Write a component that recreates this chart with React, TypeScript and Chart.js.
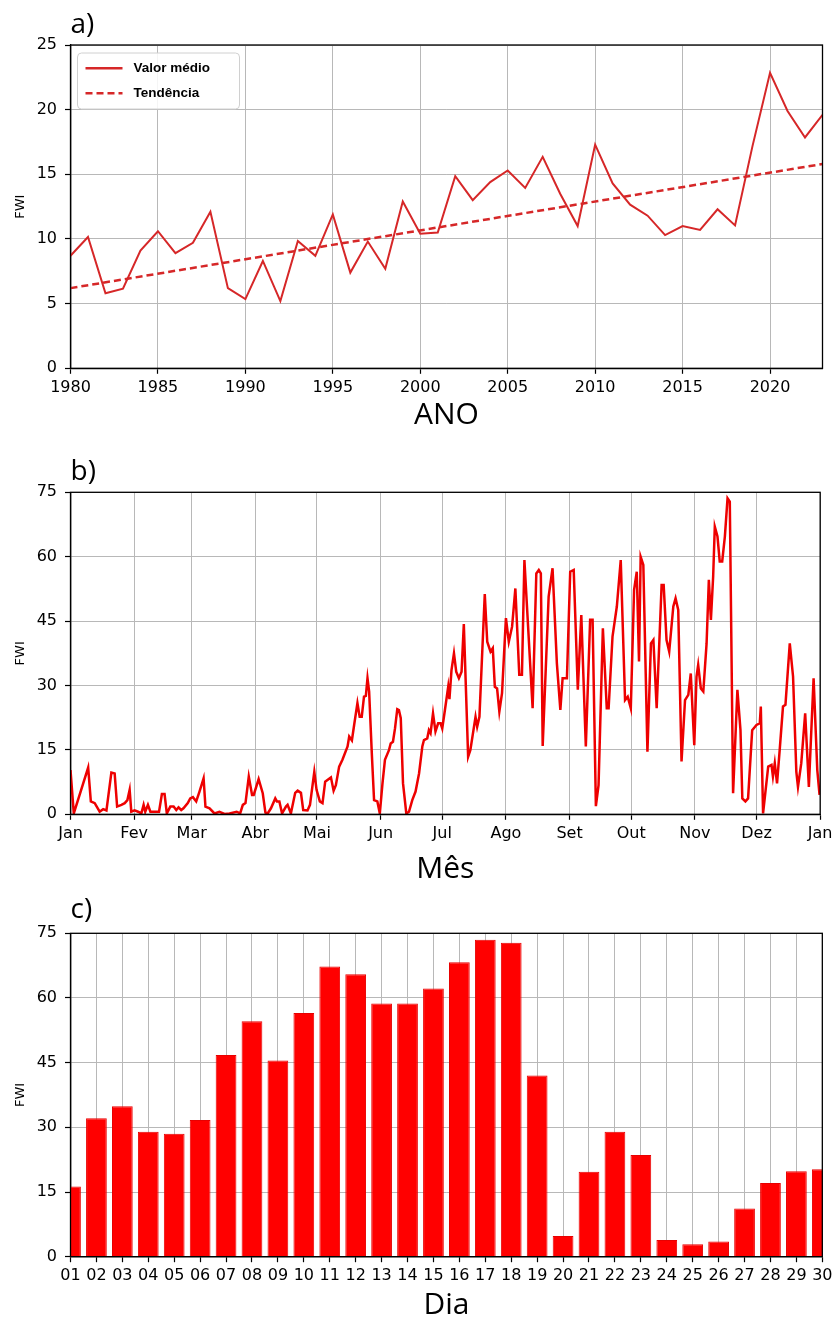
import React, { useEffect, useRef } from 'react';
import { Chart, registerables } from 'chart.js';

Chart.register(...registerables);
Chart.defaults.color = '#000';

// ---------- Panel a) annual mean FWI ----------
const years = [
  1980, 1981, 1982, 1983, 1984, 1985, 1986, 1987, 1988, 1989,
  1990, 1991, 1992, 1993, 1994, 1995, 1996, 1997, 1998, 1999,
  2000, 2001, 2002, 2003, 2004, 2005, 2006, 2007, 2008, 2009,
  2010, 2011, 2012, 2013, 2014, 2015, 2016, 2017, 2018, 2019,
  2020, 2021, 2022, 2023,
];
const valorMedio = [
  8.7, 10.15, 5.8, 6.15, 9.1, 10.6, 8.9, 9.7, 12.1, 6.2,
  5.35, 8.3, 5.2, 9.85, 8.7, 11.9, 7.4, 9.8, 7.7, 12.9,
  10.4, 10.5, 14.85, 13.0, 14.4, 15.3, 13.95, 16.35, 13.5, 11.0,
  17.3, 14.3, 12.65, 11.8, 10.3, 11.0, 10.7, 12.3, 11.05, 17.2,
  22.85, 19.9, 17.85, 19.6,
];
const trendYears = [1980, 2023];
const trendValues = [6.2, 15.8];

// ---------- Panel b) daily FWI through the year ----------
const dayOfYear = [
  0, 1.6, 8.6, 9.9, 11.8, 14.2, 15.9, 17.5, 19.9, 21.5,
  22.7, 24.8, 26.4, 27.7, 28.8, 29.6, 31.2, 32.9, 34.5, 35.6,
  36.4, 37.7, 38.9, 43.1, 44.5, 45.8, 46.9, 48.6, 50.2, 51.5,
  52.6, 53.9, 55.0, 57.1, 58.3, 59.6, 61.2, 62.8, 64.8, 65.7,
  67.7, 70.1, 72.5, 75.0, 77.4, 80.9, 82.6, 83.9, 85.2, 86.8,
  88.4, 89.2, 91.6, 93.6, 94.9, 96.0, 97.6, 99.7, 100.5, 101.7,
  103.0, 104.9, 105.7, 107.3, 109.4, 110.6, 112.2, 113.3, 115.4, 116.6,
  118.7, 119.8, 121.4, 122.7, 124.0, 125.1, 126.8, 128.1, 129.2, 130.8,
  132.4, 134.9, 135.7, 137.0, 138.1, 139.7, 140.8, 141.8, 142.9, 143.8,
  144.6, 145.4, 146.7, 147.8, 149.4, 150.6, 151.9, 153.1, 155.1, 155.9,
  157.0, 158.0, 159.1, 159.9, 160.8, 161.9, 163.5, 164.8, 166.4, 168.0,
  169.7, 171.3, 172.1, 173.7, 174.5, 175.3, 176.5, 177.7, 179.0, 180.2,
  181.0, 182.3, 183.9, 184.5, 185.5, 186.7, 187.8, 189.1, 190.4, 191.5,
  193.6, 194.7, 197.2, 198.0, 199.1, 201.7, 202.9, 204.5, 205.6, 206.6,
  207.7, 208.8, 210.1, 212.0, 213.4, 215.0, 216.6, 218.5, 219.8, 221.0,
  225.0, 226.8, 228.0, 229.0, 229.9, 232.8, 234.7, 236.8, 238.5, 239.6,
  241.7, 243.3, 245.0, 247.0, 248.7, 250.9, 253.0, 254.2, 255.8, 257.1,
  259.2, 261.1, 262.0, 263.9, 266.0, 267.9, 270.0, 271.3, 272.8, 274.4,
  275.7, 276.8, 277.6, 278.9, 280.9, 282.6, 283.8, 285.4, 287.8, 288.8,
  290.2, 291.5, 293.5, 294.6, 295.9, 297.5, 299.2, 300.8, 302.0, 303.7,
  304.8, 305.6, 306.9, 308.1, 309.7, 310.8, 311.8, 312.9, 313.7, 315.0,
  316.1, 317.3, 318.6, 319.9, 321.0, 322.6, 324.7, 326.2, 327.1, 328.6,
  329.9, 331.9, 334.0, 335.6, 336.1, 337.2, 339.7, 341.3, 342.0, 342.9,
  344.0, 345.3, 346.9, 348.1, 350.2, 351.8, 353.4, 354.2, 355.8, 357.7,
  359.5, 361.8, 363.6, 364.7,
];
const fwiDaily = [
  10.3, 0.2, 10.9, 3.0, 2.6, 0.6, 1.2, 0.9, 9.7, 9.5,
  1.8, 2.2, 2.6, 3.3, 5.7, 0.6, 0.9, 0.6, 0.2, 2.2,
  0.6, 2.2, 0.6, 0.6, 4.7, 4.7, 0.2, 1.8, 1.8, 1.0,
  1.6, 1.0, 1.4, 2.6, 3.7, 4.0, 3.0, 5.3, 8.4, 1.8,
  1.4, 0.2, 0.6, 0.1, 0.2, 0.6, 0.2, 2.2, 2.6, 8.8,
  4.5, 4.5, 8.2, 4.9, 0.4, 0.2, 1.4, 3.7, 3.0, 3.0,
  0.2, 1.8, 2.2, 0.2, 5.0, 5.5, 5.0, 1.0, 0.9, 2.2,
  9.9, 5.7, 3.0, 2.6, 7.6, 8.0, 8.6, 5.5, 6.8, 11.1,
  12.7, 15.8, 18.1, 17.2, 20.8, 25.9, 22.7, 22.7, 27.4, 27.6,
  31.7, 28.6, 14.2, 3.3, 3.0, 0.2, 7.2, 12.7, 15.0, 16.5,
  16.9, 20.0, 24.5, 24.3, 22.4, 7.2, 0.2, 0.6, 3.3, 5.3,
  9.5, 15.8, 17.3, 17.7, 19.6, 18.9, 23.5, 19.3, 21.2, 21.2,
  20.0, 24.3, 29.7, 26.8, 33.6, 37.5, 33.2, 31.7, 33.2, 44.3,
  13.4, 15.0, 22.7, 20.4, 22.7, 51.3, 40.2, 37.9, 38.7, 29.7,
  29.3, 23.9, 28.2, 45.7, 40.2, 43.7, 52.6, 32.5, 32.5, 59.2,
  24.7, 56.1, 56.9, 56.1, 15.9, 50.7, 57.3, 35.2, 24.3, 31.7,
  31.7, 56.5, 56.9, 29.0, 46.4, 15.8, 45.3, 45.3, 1.9, 6.8,
  43.3, 24.7, 24.7, 41.4, 48.4, 59.2, 26.6, 27.4, 24.7, 52.3,
  56.5, 35.6, 60.0, 58.1, 14.6, 39.8, 40.6, 24.7, 53.4, 53.4,
  40.6, 37.9, 48.4, 50.3, 47.6, 12.3, 26.6, 27.8, 32.8, 16.1,
  32.1, 34.8, 29.3, 28.6, 39.8, 54.6, 45.3, 55.4, 67.0, 64.7,
  58.9, 58.9, 64.7, 73.6, 72.8, 4.9, 29.0, 19.6, 3.7, 3.0,
  3.7, 19.6, 20.8, 21.2, 25.1, 0.2, 11.1, 11.5, 8.8, 11.9,
  7.2, 15.0, 25.1, 25.5, 39.8, 32.1, 9.9, 6.4, 11.9, 23.5,
  6.4, 31.7, 10.3, 4.5,
];
const monthStarts = [0, 31, 59, 90, 120, 151, 181, 212, 243, 273, 304, 334, 365];
const monthLabels = ['Jan', 'Fev', 'Mar', 'Abr', 'Mai', 'Jun', 'Jul', 'Ago', 'Set', 'Out', 'Nov', 'Dez', 'Jan'];

// ---------- Panel c) FWI per day ----------
const dayLabels = [
  '01', '02', '03', '04', '05', '06', '07', '08', '09', '10',
  '11', '12', '13', '14', '15', '16', '17', '18', '19', '20',
  '21', '22', '23', '24', '25', '26', '27', '28', '29', '30',
];
const fwiDia = [
  16.3, 32.1, 34.9, 29.0, 28.5, 31.7, 46.8, 54.6, 45.5, 56.5,
  67.3, 65.5, 58.7, 58.7, 62.2, 68.3, 73.5, 72.8, 42.0, 4.8,
  19.7, 29.0, 23.6, 3.9, 2.9, 3.5, 11.2, 17.1, 19.8, 20.3,
];

// ---------- shared styling ----------
const PAGE_W = 837;
const PLOT_LEFT = 70.5;
const PLOT_RIGHT = 822.5;
const GRID = '#b8b8b8';
const TICK_FONT = { family: 'DejaVu Sans', size: 16 };
const TITLE_FONT = { family: 'Open Sans', size: 30, lineHeight: 1 };
const FWI_FONT = { family: 'DejaVu Sans', size: 13 };

const framePlugin = {
  id: 'frame',
  afterDraw(chart: any) {
    const { ctx, chartArea: a } = chart;
    ctx.save();
    ctx.strokeStyle = '#000';
    ctx.lineWidth = 1.3;
    ctx.strokeRect(a.left, a.top, a.right - a.left, a.bottom - a.top);
    ctx.restore();
  },
};

const panelLabelPlugin = {
  id: 'panelLabel',
  afterDraw(chart: any, _args: any, opts: any) {
    const { ctx, chartArea: a } = chart;
    ctx.save();
    ctx.fillStyle = '#000';
    ctx.font = '28px "Open Sans"';
    ctx.textAlign = 'left';
    ctx.textBaseline = 'alphabetic';
    ctx.fillText(opts.text, a.left + (opts.dx || 0), a.top - opts.gap);
    ctx.restore();
  },
};

const insideLegendPlugin = {
  id: 'insideLegend',
  afterDraw(chart: any, _args: any, opts: any) {
    const { ctx, chartArea: a } = chart;
    const x0 = a.left + opts.dx;
    const y0 = a.top + opts.dy;
    const w = opts.width;
    const h = opts.height;
    const r = 4;
    ctx.save();
    ctx.beginPath();
    ctx.moveTo(x0 + r, y0);
    ctx.lineTo(x0 + w - r, y0);
    ctx.quadraticCurveTo(x0 + w, y0, x0 + w, y0 + r);
    ctx.lineTo(x0 + w, y0 + h - r);
    ctx.quadraticCurveTo(x0 + w, y0 + h, x0 + w - r, y0 + h);
    ctx.lineTo(x0 + r, y0 + h);
    ctx.quadraticCurveTo(x0, y0 + h, x0, y0 + h - r);
    ctx.lineTo(x0, y0 + r);
    ctx.quadraticCurveTo(x0, y0, x0 + r, y0);
    ctx.closePath();
    ctx.fillStyle = 'rgba(255,255,255,0.85)';
    ctx.fill();
    ctx.strokeStyle = '#d0d0d0';
    ctx.lineWidth = 1;
    ctx.stroke();
    chart.data.datasets.forEach((ds: any, i: number) => {
      const y = y0 + opts.firstRow + i * opts.rowGap;
      ctx.beginPath();
      ctx.setLineDash(ds.borderDash || []);
      ctx.strokeStyle = ds.borderColor;
      ctx.lineWidth = 2.5;
      ctx.moveTo(x0 + 8, y);
      ctx.lineTo(x0 + 45, y);
      ctx.stroke();
      ctx.setLineDash([]);
      ctx.fillStyle = '#000';
      ctx.font = 'bold 13.5px "Liberation Sans", Arial, sans-serif';
      ctx.textBaseline = 'middle';
      ctx.textAlign = 'left';
      ctx.fillText(ds.label, x0 + 56, y);
    });
    ctx.restore();
  },
};

function xAxisBase(height: number, titleText: string, titlePad: number) {
  return {
    grid: { color: GRID, lineWidth: 1, tickColor: '#000', tickLength: 5.5, tickWidth: 1.2 },
    border: { color: '#000', width: 1.3 },
    ticks: { font: TICK_FONT, color: '#000', padding: 4.5, maxRotation: 0, autoSkip: false },
    title: { display: true, text: titleText, font: TITLE_FONT, color: '#000', padding: { top: 0, bottom: titlePad } },
    afterFit: (s: any) => { s.height = height; },
  };
}

function yAxisBase(max: number, step: number) {
  return {
    min: 0,
    max,
    grid: { color: GRID, lineWidth: 1, tickColor: '#000', tickLength: 5.5, tickWidth: 1.2 },
    border: { color: '#000', width: 1.3 },
    ticks: { stepSize: step, font: TICK_FONT, color: '#000', padding: 8 },
    title: { display: true, text: 'FWI', font: FWI_FONT, color: '#000', padding: { top: 13, bottom: 0 } },
    afterFit: (s: any) => { s.width = PLOT_LEFT; },
  };
}

function configA(): any {
  return {
    type: 'line',
    data: {
      datasets: [
        {
          label: 'Valor médio',
          data: years.map((y, i) => ({ x: y, y: valorMedio[i] })),
          borderColor: '#d62728',
          borderWidth: 2,
          pointRadius: 0,
          tension: 0,
          fill: false,
        },
        {
          label: 'Tendência',
          data: trendYears.map((y, i) => ({ x: y, y: trendValues[i] })),
          borderColor: '#d62728',
          borderWidth: 2.5,
          borderDash: [7, 4],
          pointRadius: 0,
          fill: false,
        },
      ],
    },
    options: {
      animation: false,
      responsive: true,
      maintainAspectRatio: false,
      layout: { padding: { left: 0, right: PAGE_W - PLOT_RIGHT, top: 45, bottom: 0 } },
      plugins: {
        legend: { display: false },
        tooltip: { enabled: false },
        panelLabel: { text: 'a)', gap: 11.7 },
        insideLegend: { dx: 7, dy: 8, width: 162, height: 56, firstRow: 15.3, rowGap: 25 },
      },
      scales: {
        x: {
          type: 'linear',
          min: 1980,
          max: 2023,
          ...xAxisBase(71.7, 'ANO', 10),
          ticks: {
            stepSize: 5, includeBounds: false, font: TICK_FONT, color: '#000', padding: 4.5, maxRotation: 0,
            callback: (v: any) => String(v),
          },
        },
        y: yAxisBase(25, 5),
      },
    },
    plugins: [framePlugin, panelLabelPlugin, insideLegendPlugin],
  };
}

function configB(): any {
  return {
    type: 'line',
    data: {
      datasets: [
        {
          label: 'FWI',
          data: dayOfYear.map((d, i) => ({ x: d, y: fwiDaily[i] })),
          borderColor: '#ee0000',
          borderWidth: 2.5,
          pointRadius: 0,
          tension: 0,
          fill: false,
        },
      ],
    },
    options: {
      animation: false,
      responsive: true,
      maintainAspectRatio: false,
      layout: { padding: { left: 0, right: PAGE_W - PLOT_RIGHT, top: 52.3, bottom: 0 } },
      plugins: {
        legend: { display: false },
        tooltip: { enabled: false },
        panelLabel: { text: 'b)', gap: 12 },
      },
      scales: {
        x: {
          type: 'linear',
          min: monthStarts[0],
          max: monthStarts[monthStarts.length - 1],
          ...xAxisBase(75.7, 'Mês', 6),
          afterBuildTicks: (s: any) => { s.ticks = monthStarts.map((v) => ({ value: v })); },
          ticks: {
            font: TICK_FONT, color: '#000', padding: 4.5, maxRotation: 0, autoSkip: false,
            callback: (v: any) => monthLabels[monthStarts.indexOf(v)],
          },
        },
        y: yAxisBase(75, 15),
      },
    },
    plugins: [framePlugin, panelLabelPlugin],
  };
}

function configC(): any {
  return {
    type: 'bar',
    data: {
      labels: dayLabels,
      datasets: [
        {
          label: 'FWI',
          data: fwiDia,
          backgroundColor: '#ff0000',
          borderColor: '#e80000',
          borderWidth: 1,
          categoryPercentage: 0.8,
          barPercentage: 1.0,
        },
      ],
    },
    options: {
      animation: false,
      responsive: true,
      maintainAspectRatio: false,
      layout: { padding: { left: 0, right: PAGE_W - PLOT_RIGHT, top: 43.3, bottom: 0 } },
      plugins: {
        legend: { display: false },
        tooltip: { enabled: false },
        panelLabel: { text: 'c)', gap: 15 },
      },
      scales: {
        x: {
          type: 'category',
          offset: false,
          z: 1,
          ...xAxisBase(63.3, 'Dia', 0),
          grid: { color: GRID, lineWidth: 1, tickColor: '#000', tickLength: 5.5, tickWidth: 1.2, offset: false },
        },
        y: { ...yAxisBase(75, 15), z: 1 },
      },
    },
    plugins: [framePlugin, panelLabelPlugin],
  };
}

function Panel({ top, height, make }: { top: number; height: number; make: () => any }) {
  const ref = useRef<HTMLCanvasElement | null>(null);
  useEffect(() => {
    if (!ref.current) return;
    const chart = new Chart(ref.current, make());
    return () => chart.destroy();
  }, []);
  return (
    <div style={{ position: 'absolute', left: 0, top, width: PAGE_W, height }}>
      <canvas ref={ref} style={{ display: 'block' }} />
    </div>
  );
}

export default function App() {
  return (
    <div
      style={{
        position: 'absolute',
        left: 0,
        top: 0,
        width: PAGE_W,
        height: 1320,
        overflow: 'hidden',
        background: '#fff',
      }}
    >
      <Panel top={0} height={440} make={configA} />
      <Panel top={440} height={450} make={configB} />
      <Panel top={890} height={430} make={configC} />
    </div>
  );
}
